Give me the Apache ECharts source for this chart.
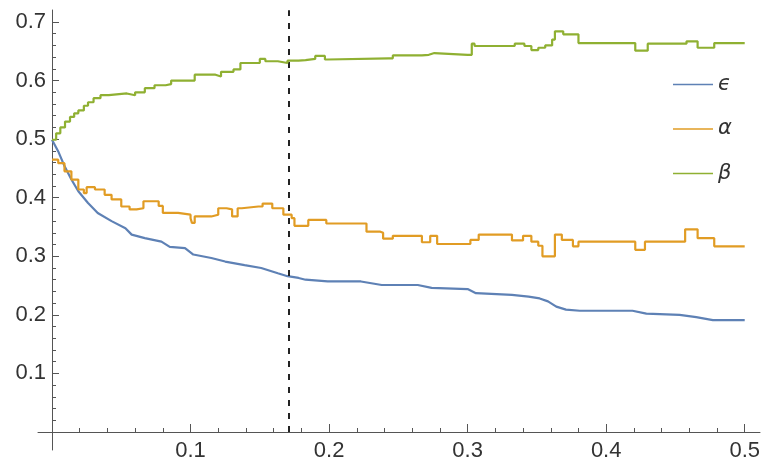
<!DOCTYPE html>
<html><head><meta charset="utf-8">
<script src="https://cdn.jsdelivr.net/npm/echarts@6/dist/echarts.min.js"></script>
<style>html,body{margin:0;padding:0;background:#fff}#c{width:763px;height:468px}</style>
</head><body><div id="c"></div><script>
const seriesNames = ['\u03F5', '\u03B1', '\u03B2'];
const seriesColors = ['#5E81B5', '#E19C24', '#8FB032'];

const epsilonData = [
  [0,0.499],[0.0045,0.479],[0.009,0.454],[0.014,0.431],[0.019,0.411],[0.026,0.391],[0.033,0.374],
  [0.043,0.360],[0.053,0.348],[0.0575,0.337],[0.067,0.331],[0.079,0.325],[0.085,0.316],[0.096,0.314],
  [0.102,0.303],[0.115,0.297],[0.125,0.291],[0.139,0.285],[0.151,0.280],[0.163,0.271],[0.170,0.266],
  [0.178,0.263],[0.183,0.260],[0.199,0.257],[0.223,0.257],[0.238,0.251],[0.264,0.251],[0.274,0.246],
  [0.300,0.244],[0.306,0.237],[0.332,0.234],[0.344,0.231],[0.352,0.228],[0.358,0.223],[0.364,0.214],
  [0.371,0.209],[0.381,0.207],[0.419,0.207],[0.429,0.202],[0.453,0.200],[0.465,0.196],[0.477,0.191],
  [0.500,0.191]
];

const alphaData = [
  [0,0.465],[0.0045,0.459],[0.009,0.445],[0.014,0.431],[0.019,0.414],[0.023,0.408],[0.025,0.418],
  [0.031,0.414],[0.038,0.405],[0.043,0.397],[0.050,0.385],[0.056,0.380],[0.061,0.382],[0.066,0.394],
  [0.072,0.394],[0.077,0.386],[0.080,0.374],[0.091,0.371],[0.100,0.365],[0.101,0.357],[0.103,0.368],
  [0.115,0.371],[0.120,0.382],[0.126,0.380],[0.130,0.368],[0.134,0.382],[0.137,0.385],[0.149,0.385],
  [0.152,0.390],[0.159,0.382],[0.167,0.371],[0.173,0.365],[0.175,0.352],[0.185,0.362],[0.198,0.356],
  [0.227,0.342],[0.237,0.340],[0.239,0.330],[0.246,0.335],[0.267,0.324],[0.273,0.335],[0.278,0.321],
  [0.302,0.328],[0.308,0.337],[0.332,0.327],[0.340,0.335],[0.346,0.325],[0.351,0.318],[0.354,0.300],
  [0.363,0.337],[0.368,0.328],[0.376,0.317],[0.380,0.325],[0.421,0.311],[0.428,0.325],[0.457,0.346],
  [0.466,0.331],[0.478,0.317],[0.500,0.317]
];

const betaData = [
  [0,0.499],[0.003,0.510],[0.006,0.520],[0.0094,0.530],[0.013,0.538],[0.016,0.544],[0.019,0.549],
  [0.023,0.557],[0.026,0.563],[0.030,0.570],[0.035,0.575],[0.041,0.578],[0.054,0.575],[0.060,0.580],
  [0.067,0.587],[0.074,0.592],[0.082,0.594],[0.086,0.600],[0.098,0.600],[0.103,0.610],[0.113,0.610],
  [0.118,0.607],[0.122,0.615],[0.131,0.619],[0.136,0.630],[0.146,0.630],[0.150,0.637],[0.154,0.633],
  [0.163,0.630],[0.170,0.634],[0.178,0.635],[0.183,0.637],[0.190,0.642],[0.197,0.636],[0.199,0.638],
  [0.243,0.638],[0.246,0.643],[0.267,0.644],[0.272,0.647],[0.276,0.644],[0.300,0.644],[0.303,0.663],
  [0.305,0.659],[0.332,0.659],[0.334,0.663],[0.341,0.659],[0.346,0.652],[0.351,0.656],[0.356,0.660],
  [0.361,0.670],[0.363,0.684],[0.369,0.679],[0.380,0.664],[0.421,0.651],[0.430,0.663],[0.458,0.667],
  [0.466,0.656],[0.478,0.664],[0.500,0.664]
];

// axis ranges and tick spacing
const xMain = { min: 0, max: 0.5, interval: 0.1 };
const yMain = { min: 0, max: 0.7, interval: 0.1 };
const minorSplit = 5;
const xFrame = [-0.0101, 0.5108];   // axis lines reach a little past the data range
const yFrame = [-0.0307, 0.7205];
const markerX = 0.171;
const markerTop = 0.72;

const axisColor = '#555';
const labelFont = { color: '#333', fontSize: 22, fontFamily: 'Liberation Sans' };
const hideZero = v => (Math.abs(v) < 1e-9 ? '' : String(Math.round(v * 10) / 10));

const chart = echarts.init(document.getElementById('c'), null, { renderer: 'canvas' });
chart.setOption({
  animation: false,
  backgroundColor: '#fff',
  grid: [
    { left: 52, right: 18, top: 22, bottom: 36, containLabel: false },
    { left: 38, right: 3, top: 10, bottom: 18, containLabel: false }
  ],
  xAxis: [
    {
      gridIndex: 0, type: 'value', min: xMain.min, max: xMain.max, interval: xMain.interval,
      axisLine: { show: false },
      axisTick: { show: true, inside: true, length: 8, lineStyle: { color: axisColor } },
      minorTick: { show: true, splitNumber: minorSplit, length: 4, lineStyle: { color: axisColor } },
      axisLabel: Object.assign({ margin: 8, formatter: hideZero }, labelFont),
      splitLine: { show: false }, minorSplitLine: { show: false }
    },
    {
      gridIndex: 1, type: 'value', min: xFrame[0], max: xFrame[1],
      axisLine: { show: true, onZero: true, lineStyle: { color: axisColor, width: 1 } },
      axisTick: { show: false }, axisLabel: { show: false }, splitLine: { show: false }
    }
  ],
  yAxis: [
    {
      gridIndex: 0, type: 'value', min: yMain.min, max: yMain.max, interval: yMain.interval,
      axisLine: { show: false },
      axisTick: { show: true, inside: true, length: 7, lineStyle: { color: axisColor } },
      minorTick: { show: true, splitNumber: minorSplit, length: 4, lineStyle: { color: axisColor } },
      axisLabel: Object.assign({ margin: 6, formatter: hideZero }, labelFont),
      splitLine: { show: false }, minorSplitLine: { show: false }
    },
    {
      gridIndex: 1, type: 'value', min: yFrame[0], max: yFrame[1],
      axisLine: { show: true, onZero: true, lineStyle: { color: axisColor, width: 1 } },
      axisTick: { show: false }, axisLabel: { show: false }, splitLine: { show: false }
    }
  ],
  legend: {
    data: seriesNames, orient: 'vertical', left: 673, top: 74, padding: 0,
    itemWidth: 40, itemHeight: 14, itemGap: 23.5, icon: 'path://M0,6 L40,6 L40,7.6 L0,7.6 Z',
    textStyle: { fontSize: 21, fontStyle: 'italic', fontFamily: 'DejaVu Sans', color: '#333', lineHeight: 20 }
  },
  series: [epsilonData, alphaData, betaData].map((d, i) => ({
    name: seriesNames[i], type: 'line', data: d, symbol: 'none',
    step: i === 0 ? false : 'end',
    xAxisIndex: 0, yAxisIndex: 0,
    lineStyle: { color: seriesColors[i], width: 2.2 },
    itemStyle: { color: seriesColors[i] },
    z: 3 + i
  })).concat([{
    type: 'line', data: [], xAxisIndex: 1, yAxisIndex: 1, silent: true,
    markLine: {
      silent: true, symbol: ['none', 'none'], label: { show: false },
      lineStyle: { color: '#222', type: [6, 7], width: 2 },
      data: [[{ coord: [markerX, 0] }, { coord: [markerX, markerTop] }]]
    }
  }])
});
</script></body></html>
